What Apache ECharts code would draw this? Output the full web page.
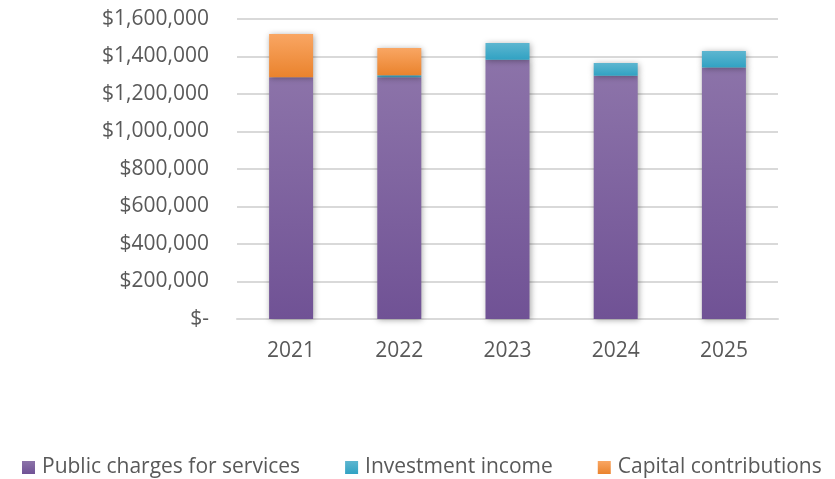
<!DOCTYPE html>
<html>
<head>
<meta charset="utf-8">
<script src="https://cdn.jsdelivr.net/npm/echarts@6/dist/echarts.min.js"></script>
<style>
  html, body { margin: 0; padding: 0; background: #fff; }
  #chart { width: 835px; height: 479px; }
</style>
</head>
<body>
<div id="chart"></div>
<script>
// Revenue sources by year (stacked)
var years = ['2021', '2022', '2023', '2024', '2025'];
var publicCharges = [1290000, 1290000, 1383000, 1298000, 1342000];
var investmentIncome = [0, 10000, 89000, 67000, 87000];
var capitalContributions = [230000, 145000, 0, 0, 0];
var seriesNames = ['Public charges for services', 'Investment income', 'Capital contributions'];

var FONT = "'Open Sans', sans-serif";
var TEXT = '#595959';

function grad(top, bottom) {
  return new echarts.graphic.LinearGradient(0, 0, 0, 1, [
    { offset: 0, color: top },
    { offset: 1, color: bottom }
  ]);
}

function fmtMoney(v) {
  if (v === 0) return '$-';
  return '$' + v.toLocaleString('en-US');
}

function barSeries(name, data, fill) {
  return {
    name: name,
    type: 'bar',
    stack: 'total',
    data: data,
    barWidth: 44,
    itemStyle: {
      color: fill,
      shadowBlur: 6,
      shadowColor: 'rgba(0,0,0,0.35)',
      shadowOffsetX: 1,
      shadowOffsetY: 1
    }
  };
}

var chart = echarts.init(document.getElementById('chart'), null, { renderer: 'canvas' });
chart.setOption({
  animation: false,
  backgroundColor: '#ffffff',
  grid: { left: 237, right: 57, top: 19, bottom: 160 },
  legend: {
    data: seriesNames,
    left: 17,
    top: 452,
    icon: 'rect',
    itemWidth: 13,
    itemHeight: 13,
    itemGap: 45,
    textStyle: { fontFamily: FONT, fontSize: 21, color: TEXT, padding: [0, 0, 0, 2] }
  },
  xAxis: {
    type: 'category',
    data: years,
    axisLine: { show: true, lineStyle: { color: '#d9d9d9', width: 2 } },
    axisTick: { show: false },
    axisLabel: { fontFamily: FONT, fontSize: 21, color: TEXT, margin: 22 }
  },
  yAxis: {
    type: 'value',
    min: 0,
    max: 1600000,
    interval: 200000,
    axisLine: { show: false },
    axisTick: { show: false },
    splitLine: { lineStyle: { color: '#d9d9d9', width: 2 } },
    axisLabel: {
      fontFamily: FONT, fontSize: 21, color: TEXT, margin: 28,
      formatter: fmtMoney
    }
  },
  series: [
    barSeries(seriesNames[0], publicCharges, grad('#8c73a9', '#705295')),
    barSeries(seriesNames[1], investmentIncome, grad('#5db6d0', '#31a2c3')),
    barSeries(seriesNames[2], capitalContributions, grad('#f9a663', '#ea832d'))
  ]
});
</script>
</body>
</html>
